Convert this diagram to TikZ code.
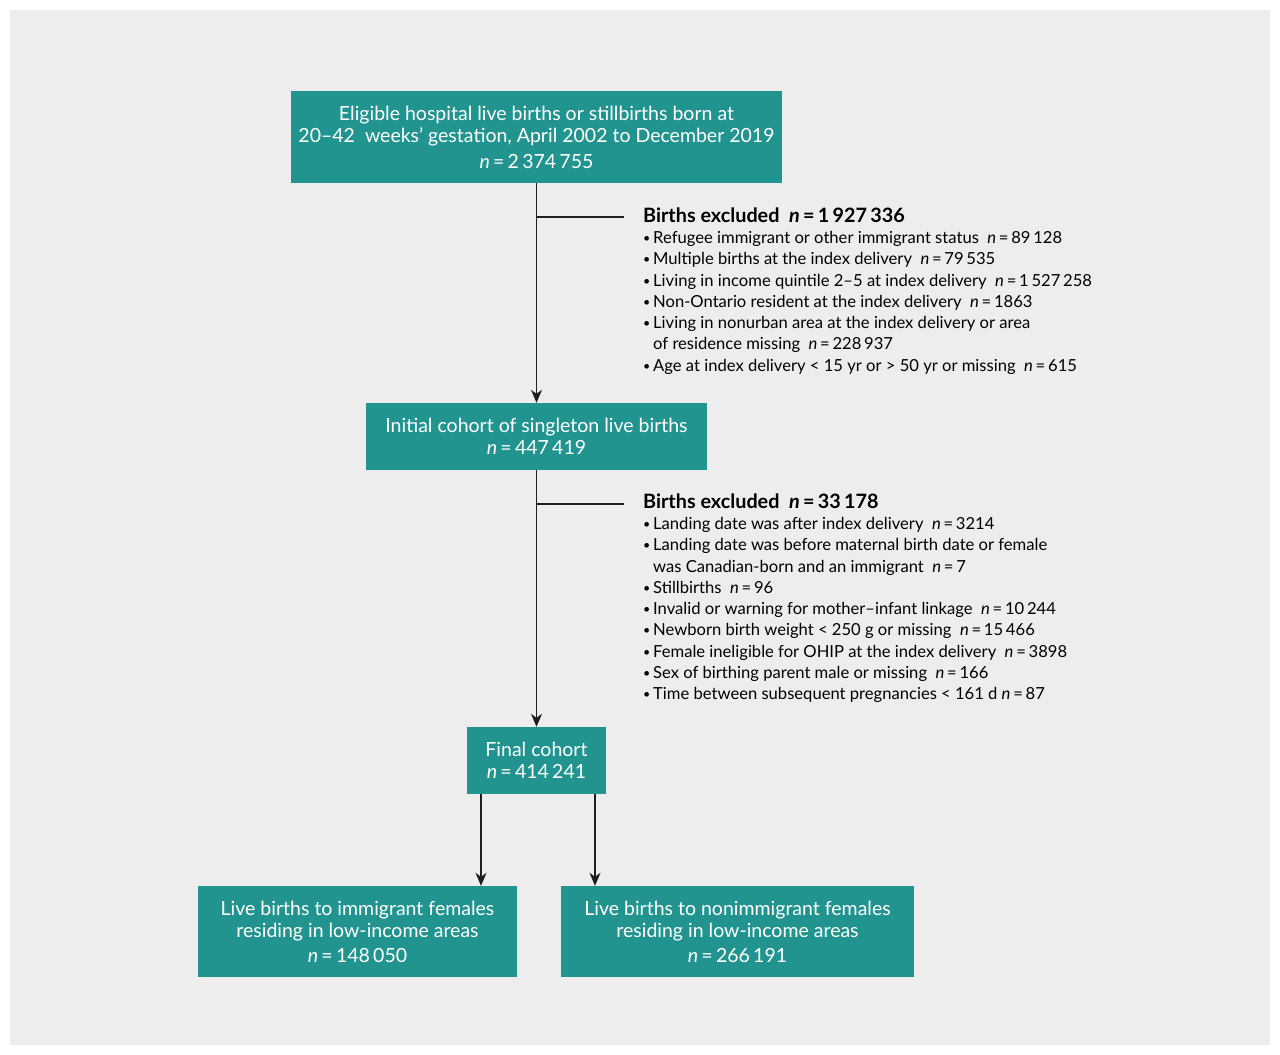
\documentclass[tikz,border=0pt]{standalone}
\usepackage{fontspec}
\setmainfont{Lato}
\usetikzlibrary{arrows.meta}

\definecolor{flowteal}{HTML}{22948F}
\definecolor{panelgray}{HTML}{EDEDED}
\newcommand{\ncount}{\textit{n}\,=\,}
\newcommand{\bul}{\raisebox{0.12ex}{\scalebox{0.75}{•}}\,}
\newcommand{\hang}{\phantom{\bul}}

\tikzset{
  box/.style={fill=flowteal, text=white, align=center, inner sep=0pt,
    font=\fontsize{19.5}{22.5}\selectfont},
  arrow/.style={-{Stealth[length=13pt,width=11pt,inset=4pt]}, line width=1.3pt, draw=black!88},
  link/.style={line width=1.3pt, draw=black!88},
  excl/.style={align=left, inner sep=0pt, anchor=north west,
    font=\fontsize{16.6}{21.3}\selectfont},
  exclhead/.style={inner sep=0pt, anchor=base west, font=\fontsize{19.8}{22}\selectfont\bfseries},
}

\begin{document}
\begin{tikzpicture}[x=1pt,y=-1pt]
  \useasboundingbox (0,0) rectangle (1280,1055);
  \fill[panelgray] (10,10) rectangle (1270,1045);

  % boxes
  \node[box, minimum width=491pt, minimum height=92pt] (eligible) at (536.5,137)
    {Eligible hospital live births or stillbirths born at\\
     20–42\ \ weeks’ gestation, April 2002 to December 2019\\[3pt]
     \ncount2\,374\,755};
  \node[box, minimum width=341pt, minimum height=67pt] (initial) at (536.5,436.5)
    {Initial cohort of singleton live births\\ \ncount447\,419};
  \node[box, minimum width=139pt, minimum height=67pt] (final) at (536.5,760.5)
    {Final cohort\\ \ncount414\,241};
  \node[box, minimum width=319pt, minimum height=91pt] (immig) at (357.5,931.5)
    {Live births to immigrant females\\ residing in low-income areas\\[2pt] \ncount148\,050};
  \node[box, minimum width=353pt, minimum height=91pt] (nonimmig) at (737.5,931.5)
    {Live births to nonimmigrant females\\ residing in low-income areas\\[2pt] \ncount266\,191};

  % exclusions
  \node[exclhead] (head1) at (643,222) {Births excluded\ \ \ncount1\,927\,336};
  \node[excl] (list1) at (643,231)
    {\bul Refugee immigrant or other immigrant status\ \ \ncount89\,128\\
     \bul Multiple births at the index delivery\ \ \ncount79\,535\\
     \bul Living in income quintile 2–5 at index delivery\ \ \ncount1\,527\,258\\
     \bul Non-Ontario resident at the index delivery\ \ \ncount1863\\
     \bul Living in nonurban area at the index delivery or area\\
     \hang of residence missing\ \ \ncount228\,937\\
     \bul Age at index delivery < 15 yr or > 50 yr or missing\ \ \ncount615};

  \node[exclhead] (head2) at (643,508) {Births excluded\ \ \ncount33\,178};
  \node[excl] (list2) at (643,517)
    {\bul Landing date was after index delivery\ \ \ncount3214\\
     \bul Landing date was before maternal birth date or female\\
     \hang was Canadian-born and an immigrant\ \ \ncount7\\
     \bul Stillbirths\ \ \ncount96\\
     \bul Invalid or warning for mother–infant linkage\ \ \ncount10\,244\\
     \bul Newborn birth weight < 250 g or missing\ \ \ncount15\,466\\
     \bul Female ineligible for OHIP at the index delivery\ \ \ncount3898\\
     \bul Sex of birthing parent male or missing\ \ \ncount166\\
     \bul Time between subsequent pregnancies < 161 d\ \ncount87};

  % connectors
  \coordinate (split1) at (536.5,217);
  \coordinate (end1) at (624,217);
  \coordinate (split2) at (536.5,504);
  \coordinate (end2) at (624,504);
  \draw[arrow] (eligible) -- (initial);
  \draw[link] (split1) -- (end1);
  \draw[arrow] (initial) -- (final);
  \draw[link] (split2) -- (end2);
  \draw[arrow] ([xshift=-55.5pt]final.south) -- ([xshift=-55.5pt]final.south |- immig.north);
  \draw[arrow] ([xshift=58.5pt]final.south) -- ([xshift=58.5pt]final.south |- nonimmig.north);
\end{tikzpicture}
\end{document}
